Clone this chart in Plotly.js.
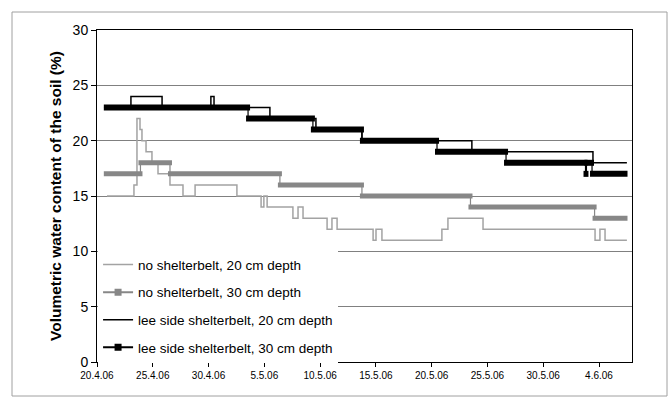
<!DOCTYPE html>
<html>
<head>
<meta charset="utf-8">
<script src="https://cdn.plot.ly/plotly-3.0.1.min.js"></script>
<style>
  html, body { margin: 0; padding: 0; background: #ffffff; }
  #chart { width: 672px; height: 398px; }
</style>
</head>
<body>
<div id="chart"></div>
<script>
// ---- data ----
var tickDates = ['2006-04-20','2006-04-25','2006-04-30','2006-05-05','2006-05-10','2006-05-15','2006-05-20','2006-05-25','2006-05-30','2006-06-04'];
var tickLabels = ['20.4.06','25.4.06','30.4.06','5.5.06','10.5.06','15.5.06','20.5.06','25.5.06','30.5.06','4.6.06'];

var seriesNames = ['no shelterbelt, 20 cm depth','no shelterbelt, 30 cm depth','lee side shelterbelt, 20 cm depth','lee side shelterbelt, 30 cm depth'];

// each array: times where the value changes (last entry = end of record)
var noSb20Time = ['2006-04-20 21:30','2006-04-23 07:30','2006-04-23 14:00','2006-04-23 20:30','2006-04-24 00:45','2006-04-24 09:30','2006-04-24 22:15','2006-04-25 11:15','2006-04-26 13:00','2006-04-27 17:00','2006-04-28 19:00','2006-05-02 13:00','2006-05-04 17:00','2006-05-04 23:00','2006-05-05 06:00','2006-05-07 13:30','2006-05-08 00:30','2006-05-08 11:15','2006-05-10 15:00','2006-05-11 01:30','2006-05-11 12:30','2006-05-14 18:00','2006-05-15 00:15','2006-05-15 13:00','2006-05-20 22:00','2006-05-21 11:00','2006-05-24 14:30','2006-06-03 15:30','2006-06-04 02:00','2006-06-04 13:00','2006-06-06 12:00'];
var noSb20Val = [15,16,22,21,20,19,18,17,16,15,16,15,14,15,14,13,14,13,12,13,12,11,12,11,12,13,12,11,12,11,11];

var noSb30Time = ['2006-04-20 19:00','2006-04-23 21:30','2006-04-26 13:00','2006-05-06 09:30','2006-05-13 18:00','2006-05-23 11:30','2006-06-03 14:30','2006-06-06 09:00'];
var noSb30Val = [17,18,17,16,15,14,13,13];

var leeSb20Time = ['2006-04-20 15:00','2006-04-23 01:00','2006-04-25 20:00','2006-04-30 05:00','2006-04-30 11:45','2006-05-05 12:00','2006-05-09 15:00','2006-05-13 18:00','2006-05-23 14:30','2006-06-03 11:00','2006-06-06 12:00'];
var leeSb20Val = [23,24,23,24,23,22,21,20,19,18,18];

var leeSb30Time = ['2006-04-20 19:00','2006-05-03 13:00','2006-05-09 08:30','2006-05-13 18:00','2006-05-20 11:30','2006-05-26 16:00','2006-06-02 19:00','2006-06-02 21:00','2006-06-03 09:00','2006-06-06 09:00'];
var leeSb30Val = [23,22,21,20,19,18,17,18,17,17];

// ---- helpers ----
function toMs(s) { return Date.parse(s.replace(' ', 'T') + ':00Z'); }
var PAD = 0.18 * 86400000; // half marker width, in ms

// thick band = dense square markers at each level: horizontal pieces per level
function band(times, vals) {
  var x = [], y = [];
  for (var i = 0; i < times.length - 1; i++) {
    x.push(toMs(times[i]) - PAD, toMs(times[i + 1]) + PAD, null);
    y.push(vals[i], vals[i], null);
  }
  return {x: x, y: y};
}
function msList(times) { return times.map(toMs); }

var lightGrey = '#a3a3a3';
var darkGrey = '#878787';
var black = '#000000';

var b30no = band(noSb30Time, noSb30Val);
var b30lee = band(leeSb30Time, leeSb30Val);

var traces = [
  {x: msList(noSb20Time), y: noSb20Val, type: 'scatter', mode: 'lines', name: seriesNames[0],
   line: {color: lightGrey, width: 1.5, shape: 'hv'}, legendgroup: 'a', hoverinfo: 'skip'},
  {x: [null], y: [null], type: 'scatter', mode: 'lines+markers', name: seriesNames[1],
   line: {color: darkGrey, width: 2}, marker: {symbol: 'square', size: 7, color: darkGrey}, legendgroup: 'b'},
  {x: msList(noSb30Time), y: noSb30Val, type: 'scatter', mode: 'lines', showlegend: false,
   line: {color: darkGrey, width: 1.2, shape: 'hv'}, legendgroup: 'b', hoverinfo: 'skip'},
  {x: b30no.x, y: b30no.y, type: 'scatter', mode: 'lines', showlegend: false, connectgaps: false,
   line: {color: darkGrey, width: 5}, legendgroup: 'b', hoverinfo: 'skip'},
  {x: msList(leeSb20Time), y: leeSb20Val, type: 'scatter', mode: 'lines', name: seriesNames[2],
   line: {color: black, width: 1.5, shape: 'hv'}, legendgroup: 'c', hoverinfo: 'skip'},
  {x: [null], y: [null], type: 'scatter', mode: 'lines+markers', name: seriesNames[3],
   line: {color: black, width: 2}, marker: {symbol: 'square', size: 7, color: black}, legendgroup: 'd'},
  {x: msList(leeSb30Time), y: leeSb30Val, type: 'scatter', mode: 'lines', showlegend: false,
   line: {color: black, width: 1.2, shape: 'hv'}, legendgroup: 'd', hoverinfo: 'skip'},
  {x: b30lee.x, y: b30lee.y, type: 'scatter', mode: 'lines', showlegend: false, connectgaps: false,
   line: {color: black, width: 6}, legendgroup: 'd', hoverinfo: 'skip'}
];

var font = 'Arial, "Liberation Sans", sans-serif';

var layout = {
  width: 672, height: 398,
  margin: {l: 97, r: 40, t: 30, b: 36},
  paper_bgcolor: '#ffffff', plot_bgcolor: '#ffffff',
  font: {family: font, color: '#000000', size: 12},
  showlegend: true,
  legend: {
    x: 0.002, xanchor: 'left', y: -0.004, yanchor: 'bottom',
    bgcolor: '#ffffff', borderwidth: 0,
    font: {family: font, size: 13.5, color: '#000000'},
    traceorder: 'grouped', tracegroupgap: 7,
    itemwidth: 30
  },
  xaxis: {
    type: 'date',
    range: [toMs('2006-04-20 00:00'), toMs('2006-06-06 23:00')],
    tickmode: 'array', tickvals: tickDates.map(function (d) { return toMs(d + ' 00:00'); }), ticktext: tickLabels,
    ticks: 'outside', ticklen: 4, tickcolor: '#000000', tickwidth: 1,
    tickfont: {family: font, size: 10, color: '#000000'},
    showgrid: false, zeroline: false,
    showline: true, linecolor: '#000000', linewidth: 1, mirror: true,
    fixedrange: true
  },
  yaxis: {
    range: [0, 30], tickmode: 'linear', tick0: 0, dtick: 5,
    ticks: 'outside', ticklen: 5, tickcolor: '#000000', tickwidth: 1,
    tickfont: {family: font, size: 14, color: '#000000'},
    showgrid: true, gridcolor: '#808080', gridwidth: 1,
    zeroline: false,
    showline: true, linecolor: '#000000', linewidth: 1, mirror: true,
    title: {text: 'Volumetric water content of the soil (%)', font: {family: font, size: 15.5, color: '#000000', weight: 'bold'}, standoff: 7},
    fixedrange: true
  },
  shapes: [
    {type: 'rect', xref: 'paper', yref: 'paper',
     x0: (12 - 97) / 535, x1: (667 - 97) / 535, y0: (362 - 396) / 332, y1: (362 - 12) / 332,
     line: {color: '#a0a0a0', width: 1}, fillcolor: 'rgba(0,0,0,0)', layer: 'below'}
  ]
};

Plotly.newPlot('chart', traces, layout, {displayModeBar: false, staticPlot: true});
</script>
</body>
</html>
